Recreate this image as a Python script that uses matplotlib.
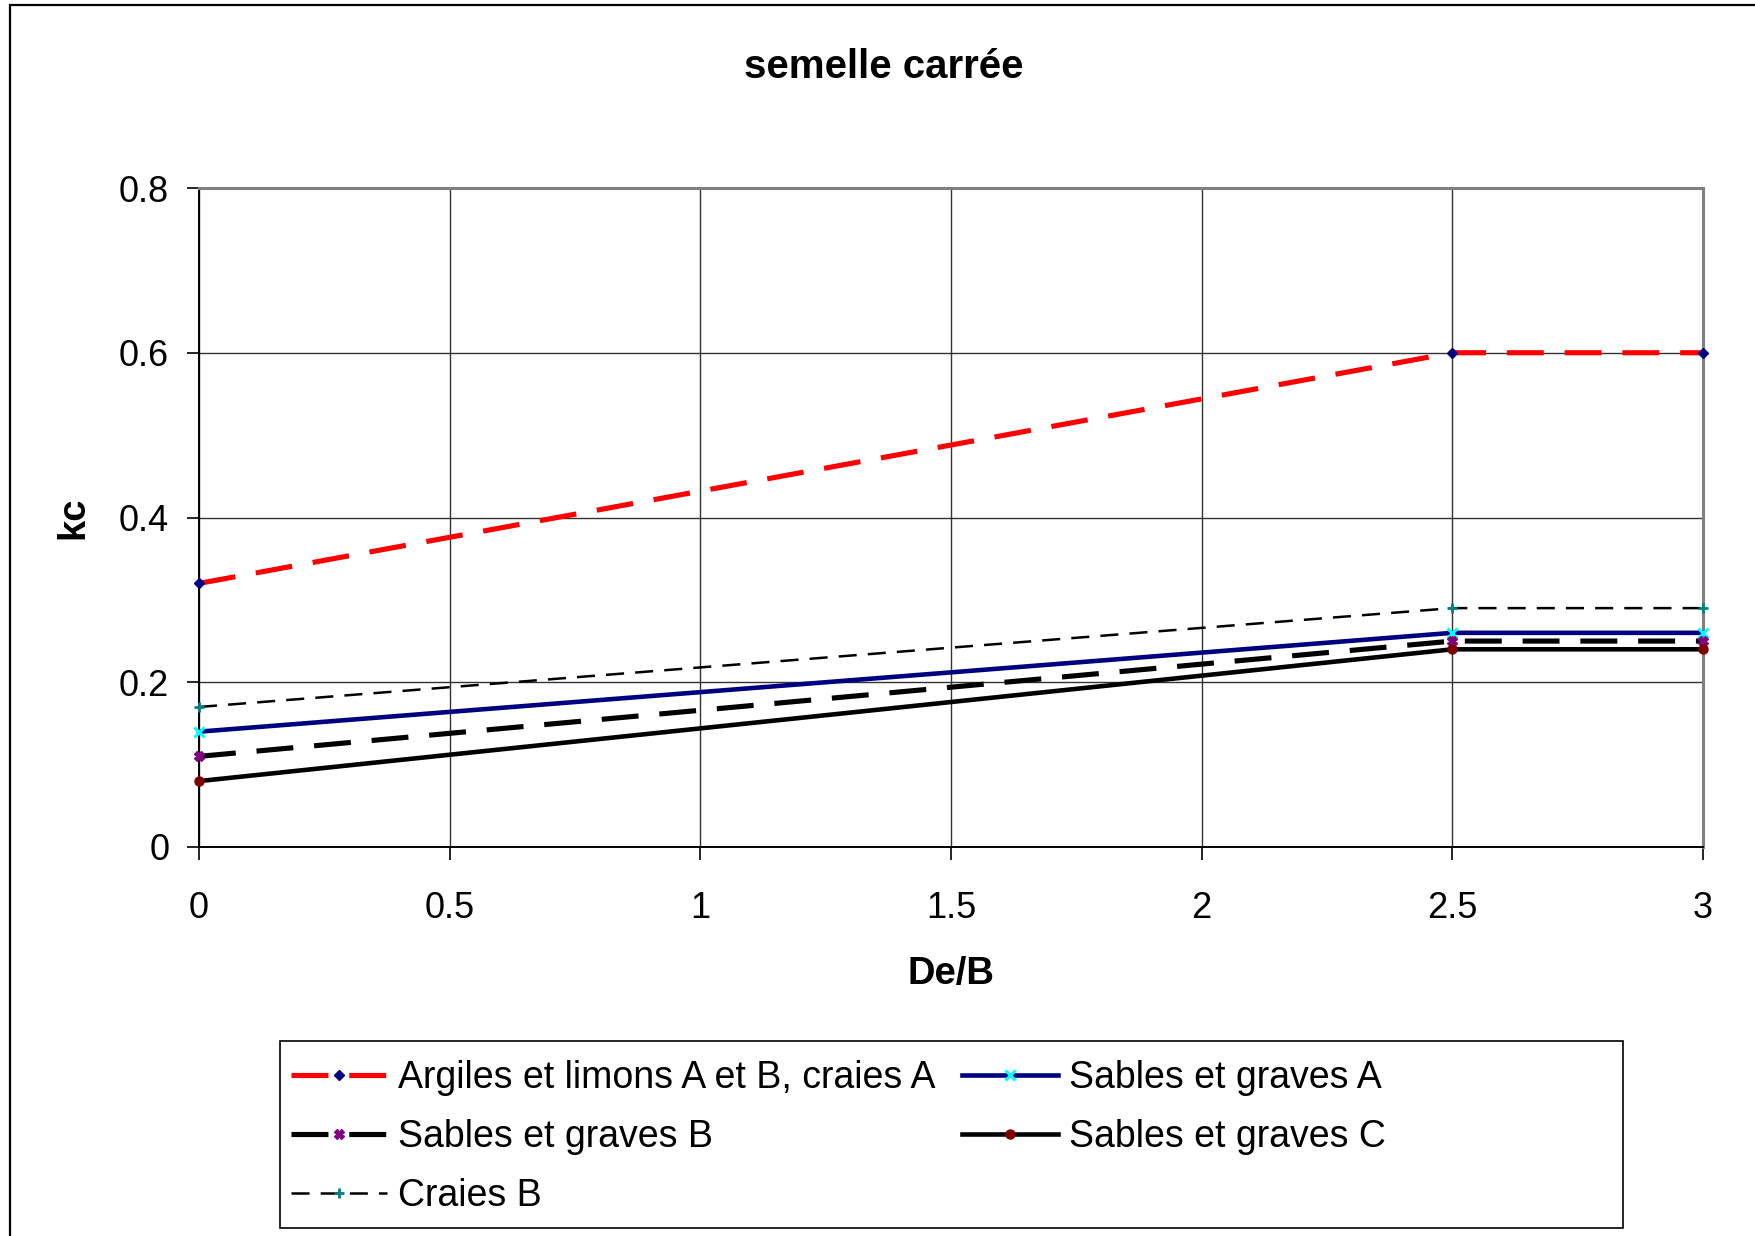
import matplotlib.pyplot as plt
from matplotlib.patches import Rectangle

plt.rcParams['font.family'] = ['Liberation Sans', 'DejaVu Sans']
plt.rcParams['lines.scale_dashes'] = False

# valeurs
de_b = [0, 2.5, 3]
argiles = [0.32, 0.60, 0.60]
sables_a = [0.14, 0.26, 0.26]
sables_b = [0.11, 0.25, 0.25]
sables_c = [0.08, 0.24, 0.24]
craies_b = [0.17, 0.29, 0.29]

labels = ['Argiles et limons A et B, craies A', 'Sables et graves A',
          'Sables et graves B', 'Sables et graves C', 'Craies B']
x_ticks = [0, 0.5, 1, 1.5, 2, 2.5, 3]
x_tick_labels = ['0', '0.5', '1', '1.5', '2', '2.5', '3']
y_ticks = [0, 0.2, 0.4, 0.6, 0.8]
y_tick_labels = ['0', '0.2', '0.4', '0.6', '0.8']

W, H = 1755, 1236
fig = plt.figure(figsize=(W / 100, H / 100), dpi=100)
ax = fig.add_axes([199 / W, 1 - 847 / H, (1703 - 199) / W, (847 - 188) / H])

# cadre extérieur (coupé à droite et en bas)
fig.patches.append(Rectangle((10 / W, -0.1), 1.2, 1.1 - 5 / H,
                             transform=fig.transFigure, fill=False,
                             edgecolor='black', linewidth=1.6))

# courbes
l1, = ax.plot(de_b, argiles, color='#FF0000', lw=3.7, dashes=(26.6, 15),
              marker='D', ms=5, mfc='#000080', mec='#000080', zorder=3)
l2, = ax.plot(de_b, sables_a, color='#000080', lw=3.3,
              marker='x', ms=6.5, mew=2.2, mec='#00FFFF', zorder=3)
l3, = ax.plot(de_b, sables_b, color='black', lw=3.7, dashes=(26.6, 15),
              marker='X', ms=6.5, mfc='#800080', mec='#800080', zorder=3)
l4, = ax.plot(de_b, sables_c, color='black', lw=3.3,
              marker='o', ms=6.5, mfc='#800000', mec='#800000', zorder=3)
l5, = ax.plot(de_b, craies_b, color='black', lw=1.8, dashes=(13, 8),
              marker='+', ms=7.5, mew=2, mec='#008080', zorder=3)
for ln in (l1, l2, l3, l4, l5):
    ln.set_clip_on(False)

ax.set_xlim(0, 3)
ax.set_ylim(0, 0.8)
ax.set_xticks(x_ticks, x_tick_labels)
ax.set_yticks(y_ticks, y_tick_labels)
ax.tick_params(axis='both', direction='out', length=9, width=1.2,
               labelsize=26, color='black')
ax.tick_params(axis='x', pad=23)
ax.tick_params(axis='y', pad=12.5)
ax.grid(True, color='#333333', linewidth=1.0)
ax.set_axisbelow(True)

for side in ['top', 'right']:
    ax.spines[side].set_color('#808080')
    ax.spines[side].set_linewidth(2.2)
for side in ['left', 'bottom']:
    ax.spines[side].set_color('black')
    ax.spines[side].set_linewidth(1.4)
    ax.spines[side].set_zorder(2.5)

ax.set_xlabel('De/B', fontsize=27.5, fontweight='bold', va='center')
ax.xaxis.set_label_coords(0.5, (847 - 974) / (847 - 188))
ax.set_ylabel('kc', fontsize=27.5, fontweight='bold', ha='center', va='center')
ax.yaxis.set_label_coords((73 - 199) / (1703 - 199), 0.5)

fig.text(884 / W, 1 - 67 / H, 'semelle carrée', fontsize=29,
         fontweight='bold', ha='center', va='center')

# légende : cadre dessiné à part, plus large que son contenu
fig.patches.append(Rectangle((280 / W, 1 - 1228 / H), 1343 / W, 187 / H,
                             transform=fig.transFigure, fill=False,
                             edgecolor='black', linewidth=1.2))
# ordre par lignes comme dans Excel : la 1re colonne reçoit 1, 3, 5
lines = [l1, l2, l3, l4, l5]
order = [0, 2, 4, 1, 3]
fig.legend([lines[i] for i in order], [labels[i] for i in order], ncol=2,
           loc='upper left', bbox_to_anchor=(291 / W, 1 - 1060 / H),
           frameon=False, fontsize=27, handlelength=2.55, handletextpad=0.3,
           columnspacing=0.71, labelspacing=0.62, borderpad=0,
           borderaxespad=0, numpoints=1)

fig.savefig('out.png', dpi=100, facecolor='white')
